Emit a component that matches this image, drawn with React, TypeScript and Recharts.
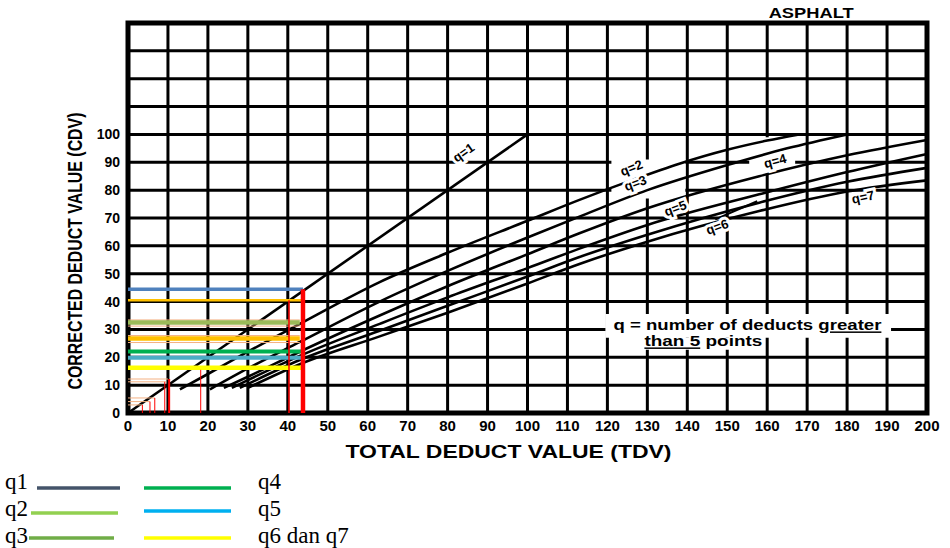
import {
  LineChart, Line, XAxis, YAxis, CartesianGrid,
  ReferenceLine, ReferenceArea, ReferenceDot,
} from 'recharts'

const SANS = '"Liberation Sans", Arial, sans-serif'
const SERIF = '"Liberation Serif", "Times New Roman", serif'

// axis ticks
const tdvTicks = [0, 10, 20, 30, 40, 50, 60, 70, 80, 90, 100, 110, 120, 130, 140, 150, 160, 170, 180, 190, 200]
const cdvTicks = [0, 10, 20, 30, 40, 50, 60, 70, 80, 90, 100, 110, 120, 130, 140]

// CDV curves
const q1Tdv = [0, 100]
const q1Cdv = [0, 100]
const q2Tdv = [13, 20, 30, 43, 63, 80, 100, 113, 126, 138, 150, 160, 168]
const q2Cdv = [8.5, 14, 22, 32, 47, 57.5, 69, 76.5, 83.5, 89.5, 94.5, 97.8, 100]
const q3Tdv = [20.5, 30, 43, 63, 80, 100, 113, 130, 150, 165, 180]
const q3Cdv = [8.5, 16, 25.5, 40, 51, 63, 70.5, 80, 89, 95, 100]
const q4Tdv = [24, 30, 43, 63, 80, 100, 113, 130, 158, 180, 200]
const q4Cdv = [9, 13, 22, 35, 45.5, 57, 64.5, 73.5, 85, 92.5, 98]
const q5Tdv = [26, 30, 43, 63, 80, 100, 113, 130, 158, 180, 200]
const q5Cdv = [9, 11.8, 20.5, 32, 41.5, 52, 59, 67.5, 78.5, 86.5, 93]
const q6Tdv = [28, 43, 63, 80, 100, 113, 130, 158, 180, 200]
const q6Cdv = [9, 19, 29.5, 38.5, 49, 56, 64, 75.5, 83, 88]
const q7Tdv = [30, 43, 63, 80, 100, 113, 130, 158, 180, 200]
const q7Cdv = [9, 17.5, 27.5, 36, 46.5, 53.5, 61.5, 72.5, 79.5, 83.5]

const curveTdv = [q1Tdv, q2Tdv, q3Tdv, q4Tdv, q5Tdv, q6Tdv, q7Tdv]
const curveCdv = [q1Cdv, q2Cdv, q3Cdv, q4Cdv, q5Cdv, q6Cdv, q7Cdv]

// curve tags
const tagText = ['q=1', 'q=2', 'q=3', 'q=4', 'q=5', 'q=6', 'q=7']
const tagTdv = [84, 126, 127, 162, 137, 147.5, 184]
const tagCdv = [93.5, 88, 82.5, 90.5, 73.5, 66.8, 77.5]
const TAG_TILT = [-35, -22, -20, -15, -20, -20, -12]

// hand-drawn readings: horizontal lines from the CDV axis
const readCdv = [44.4, 40.5, 33.4, 32.5, 31.2, 27.8, 26.7, 25.3, 22.1, 19.8, 16.2, 12.2, 11.2, 5.4, 4.1, 2.9]
const readTdvEnd = [43.8, 43.5, 43, 43, 43, 43, 43, 43, 43.5, 43.5, 43.5, 10, 9.5, 6.7, 5.5, 3.6]
const READ_COLOR = ['#4f81bd', '#ffc000', '#f4b183', '#9bbb59', '#f4b183', '#f4b183', '#ffc000', '#f4b183',
  '#00b050', '#4bacc6', '#ffff00', '#f4b183', '#f4b183', '#f4b183', '#f4b183', '#f4b183']
const READ_WIDTH = [3.5, 2.5, 1, 4.5, 1, 1, 4.5, 1, 4, 4, 4.5, 1, 1, 1, 1, 1]

// vertical red lines up from the TDV axis
const markTdv = [43.8, 40.3, 18.2, 10.3, 9.2, 6.7, 5.5, 3.6]
const markTop = [44.4, 40.5, 15.5, 12.2, 11.2, 5.4, 4.1, 2.9]
const MARK_WIDTH = [4.5, 1.5, 1, 2, 1, 1, 1, 1]

// legend under the chart
const legendLabels = ['q1', 'q2', 'q3', 'q4', 'q5', 'q6 dan q7']
const legendColors = ['#44546a', '#92d050', '#70ad47', '#00b050', '#00b0f0', '#ffff00']

const curves = curveTdv.map((xs, i) => xs.map((x, j) => ({ tdv: x, cdv: curveCdv[i][j] })))

function CurveTag(props: any) {
  const { viewBox, text, tilt } = props
  const x = viewBox.x + (viewBox.width || 0) / 2
  const y = viewBox.y + (viewBox.height || 0) / 2
  return (
    <text x={x} y={y} textAnchor="middle" dominantBaseline="central"
      transform={`rotate(${tilt} ${x} ${y})`}
      fontFamily={SANS} fontWeight="bold" fontSize={13} fill="#000"
      stroke="#fff" strokeWidth={6} paintOrder="stroke">
      {text}
    </text>
  )
}

function TopTitle(props: any) {
  const { viewBox } = props
  const x = viewBox.x + (viewBox.width || 0) / 2
  return (
    <text x={x} y={viewBox.y - 5} textAnchor="middle" fontFamily={SANS} fontWeight="bold"
      fontSize={14} textLength={85} lengthAdjust="spacingAndGlyphs" fill="#000">ASPHALT</text>
  )
}

function NoteText(props: any) {
  const { viewBox } = props
  const x = viewBox.x
  const y = viewBox.y
  return (
    <g fontFamily={SANS} fontWeight="bold" fill="#000">
      <text x={x} y={y + 1} fontSize={15} textLength={268} lengthAdjust="spacingAndGlyphs">
        q = number of deducts <tspan textDecoration="underline">greater</tspan>
      </text>
      <text x={x + 31} y={y + 17} fontSize={15} textLength={118} lengthAdjust="spacingAndGlyphs">
        <tspan textDecoration="underline">than 5</tspan> points
      </text>
    </g>
  )
}

function XTitle(props: any) {
  const { viewBox } = props
  const cx = viewBox.x + viewBox.width / 2 - 19
  return (
    <text x={cx} y={viewBox.y + 45} textAnchor="middle" fontFamily={SANS} fontWeight="bold"
      fontSize={19} textLength={326} lengthAdjust="spacingAndGlyphs" fill="#000">
      TOTAL DEDUCT VALUE (TDV)
    </text>
  )
}

function YTitle(props: any) {
  const { viewBox } = props
  const cx = viewBox.x + 82
  const cy = viewBox.y + viewBox.height / 2 + 33
  return (
    <text x={cx} y={cy} textAnchor="middle" transform={`rotate(-90 ${cx} ${cy})`}
      fontFamily={SANS} fontWeight="bold" fontSize={20} textLength={277}
      lengthAdjust="spacingAndGlyphs" fill="#000">
      CORRECTED DEDUCT VALUE (CDV)
    </text>
  )
}

function BottomLegend() {
  const rowY = [29, 56, 83]
  const leftLine = [[37, 120, 28], [31, 118, 53], [29, 114, 78]]
  const rightLine = [[144, 231, 28], [144, 231, 51], [144, 231, 78]]
  return (
    <svg width={400} height={88} style={{ position: 'absolute', left: 0, top: 460 }}>
      {legendLabels.map((lab, i) => {
        const col = i < 3 ? 0 : 1
        const r = i % 3
        const ln = col === 0 ? leftLine[r] : rightLine[r]
        return (
          <g key={lab}>
            <line x1={ln[0]} x2={ln[1]} y1={ln[2]} y2={ln[2]} stroke={legendColors[i]} strokeWidth={3.5} />
            <text x={col === 0 ? 5 : 258} y={rowY[r]} fontFamily={SERIF} fontSize={23} fill="#000">{lab}</text>
          </g>
        )
      })}
    </svg>
  )
}

export default function App() {
  return (
    <div style={{ position: 'absolute', left: 0, top: 0, width: 950, height: 548, background: '#fff' }}>
      <LineChart width={950} height={548} margin={{ top: 23, right: 23, bottom: 75, left: 0 }}>
        <CartesianGrid stroke="#000" strokeWidth={3} />
        <XAxis
          type="number" dataKey="tdv" domain={[0, 200]} ticks={tdvTicks} interval={0}
          axisLine={false} tickLine={false} tickSize={0} tickMargin={7} height={60}
          tick={{ fontSize: 15, fontWeight: 'bold', fontFamily: SANS, fill: '#000' }}
          label={<XTitle />}
        />
        <YAxis
          type="number" dataKey="cdv" domain={[0, 140]} ticks={cdvTicks} interval={0}
          axisLine={false} tickLine={false} tickSize={0} tickMargin={8} width={128}
          tickFormatter={(v: number) => (v > 100 ? '' : String(v))}
          tick={{ fontSize: 14, fontWeight: 'bold', fontFamily: SANS, fill: '#000' }}
          label={<YTitle />}
        />

        {/* grid gaps behind the printed labels */}
        <ReferenceArea x1={119.5} x2={191} y1={27} y2={35.5} fill="#fff" fillOpacity={1} stroke="none" />
        <ReferenceArea x1={127} x2={158} y1={22.7} y2={27} fill="#fff" fillOpacity={1} stroke="none" />
        <ReferenceArea x1={121} x2={139.5} y1={77} y2={91} fill="#fff" fillOpacity={1} stroke="none" />
        <ReferenceArea x1={155.5} x2={167} y1={86} y2={99} fill="#fff" fillOpacity={1} stroke="none" />

        {curves.map((data, i) => (
          <Line key={tagText[i]} data={data} dataKey="cdv" type="monotone" stroke="#000"
            strokeWidth={2.6} dot={false} activeDot={false} isAnimationActive={false} />
        ))}

        <ReferenceLine segment={[{ x: 147, y: 69.5 }, { x: 157.5, y: 76 }]} stroke="#000" strokeWidth={2} />

        {tagText.map((t, i) => (
          <ReferenceDot key={t} x={tagTdv[i]} y={tagCdv[i]} r={0} fill="none" stroke="none"
            label={<CurveTag text={t} tilt={TAG_TILT[i]} />} />
        ))}

        <ReferenceDot x={171} y={140} r={0} fill="none" stroke="none" label={<TopTitle />} />
        <ReferenceDot x={121.5} y={30} r={0} fill="none" stroke="none" label={<NoteText />} />

        {readCdv.map((c, i) => (
          <ReferenceLine key={'h' + i} segment={[{ x: 0, y: c }, { x: readTdvEnd[i], y: c }]}
            stroke={READ_COLOR[i]} strokeWidth={READ_WIDTH[i]} />
        ))}
        {markTdv.map((t, i) => (
          <ReferenceLine key={'v' + i} segment={[{ x: t, y: 0 }, { x: t, y: markTop[i] }]}
            stroke="#ff0000" strokeWidth={MARK_WIDTH[i]} />
        ))}

        <ReferenceArea x1={0} x2={200} y1={0} y2={140} fill="none" stroke="#000" strokeWidth={5} />
      </LineChart>
      <BottomLegend />
    </div>
  )
}
